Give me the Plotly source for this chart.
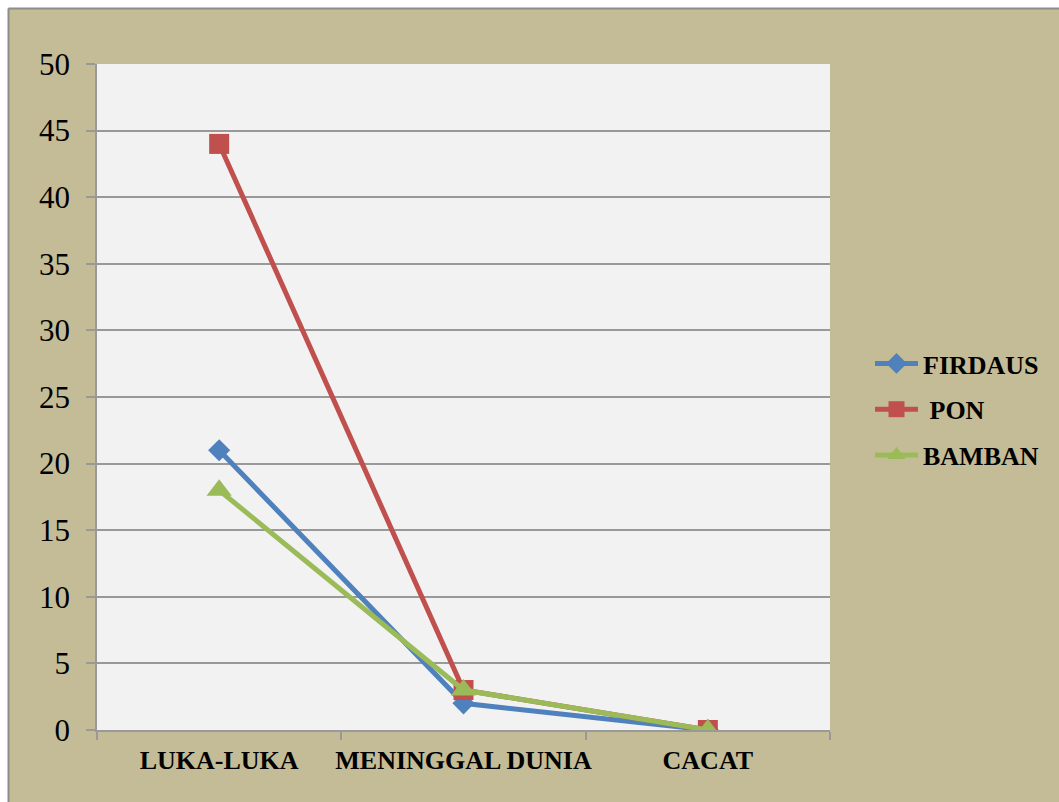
import plotly.graph_objects as go

# Casualty categories and counts per series
categories = ["LUKA-LUKA", "MENINGGAL DUNIA", "CACAT"]
firdaus = [21, 2, 0]
pon = [44, 3, 0]
bamban = [18, 3, 0]

series_names = ["FIRDAUS", "\u00a0PON", "BAMBAN"]
y_ticks = [0, 5, 10, 15, 20, 25, 30, 35, 40, 45, 50]

W, H = 1059, 802
L, R, T, B = 97, 830, 64, 730  # plot-area edges in pixels

TAN = "#C4BC96"
GRID = "#999999"
SERIF = "Liberation Serif, Times New Roman, serif"


def px_x(p):
    return (p - L) / (R - L)


def px_y(p):
    return (B - p) / (B - T)


fig = go.Figure()

styles = [
    (firdaus, "#4F81BD", "diamond", 17),
    (pon, "#C0504D", "square", 20),
    (bamban, "#9BBB59", "triangle-up", 22),
]

for name, (vals, color, sym, size) in zip(series_names, styles):
    fig.add_trace(go.Scatter(
        x=categories, y=vals, name=name, mode="lines+markers",
        legendgroup=name,
        line=dict(color=color, width=5),
        marker=dict(symbol=sym, size=size, color=color, line=dict(width=0)),
    ))

# white frame strips outside the chart box, plus the grey chart border
shapes = [
    dict(type="rect", xref="paper", yref="paper", layer="above",
         x0=px_x(-5), x1=px_x(W + 5), y0=px_y(-5), y1=px_y(8),
         fillcolor="white", line=dict(width=0)),
    dict(type="rect", xref="paper", yref="paper", layer="above",
         x0=px_x(-5), x1=px_x(8), y0=px_y(-5), y1=px_y(H + 5),
         fillcolor="white", line=dict(width=0)),
    dict(type="line", xref="paper", yref="paper", layer="above",
         x0=px_x(8.5), x1=px_x(W + 5), y0=px_y(8.5), y1=px_y(8.5),
         line=dict(color="#8C8C8C", width=2)),
    dict(type="line", xref="paper", yref="paper", layer="above",
         x0=px_x(8.5), x1=px_x(8.5), y0=px_y(8.5), y1=px_y(H + 5),
         line=dict(color="#8C8C8C", width=2)),
]

fig.update_layout(
    width=W, height=H,
    margin=dict(l=L, r=W - R, t=T, b=H - B, pad=0, autoexpand=False),
    paper_bgcolor=TAN,
    plot_bgcolor="#F2F2F2",
    shapes=shapes,
    showlegend=True,
    legend=dict(
        x=px_x(870), y=px_y(340), xanchor="left", yanchor="top",
        bgcolor="rgba(0,0,0,0)",
        font=dict(family=SERIF, size=26, color="black", weight="bold"),
        traceorder="grouped", tracegroupgap=9,
        itemwidth=43,
    ),
    xaxis=dict(
        type="category", range=[-0.5, 2.5],
        tickson="boundaries", ticks="outside", ticklen=8, tickcolor=GRID,
        tickwidth=1.5, tickangle=0, automargin=False,
        showline=True, linecolor=GRID, linewidth=1.5,
        showgrid=False, zeroline=False,
        tickfont=dict(family=SERIF, size=26, color="black", weight="bold"),
        ticklabelstandoff=6,
        fixedrange=True,
    ),
    yaxis=dict(
        range=[0, 50], tickvals=y_ticks, automargin=False,
        ticks="outside", ticklen=9, tickcolor=GRID, tickwidth=1.5,
        showline=True, linecolor=GRID, linewidth=1.5,
        showgrid=True, gridcolor=GRID, gridwidth=1.5,
        zeroline=False,
        tickfont=dict(family=SERIF, size=31, color="black"),
        ticklabelstandoff=10,
        fixedrange=True,
    ),
)

fig.write_html("out.html", config=dict(displayModeBar=False))
